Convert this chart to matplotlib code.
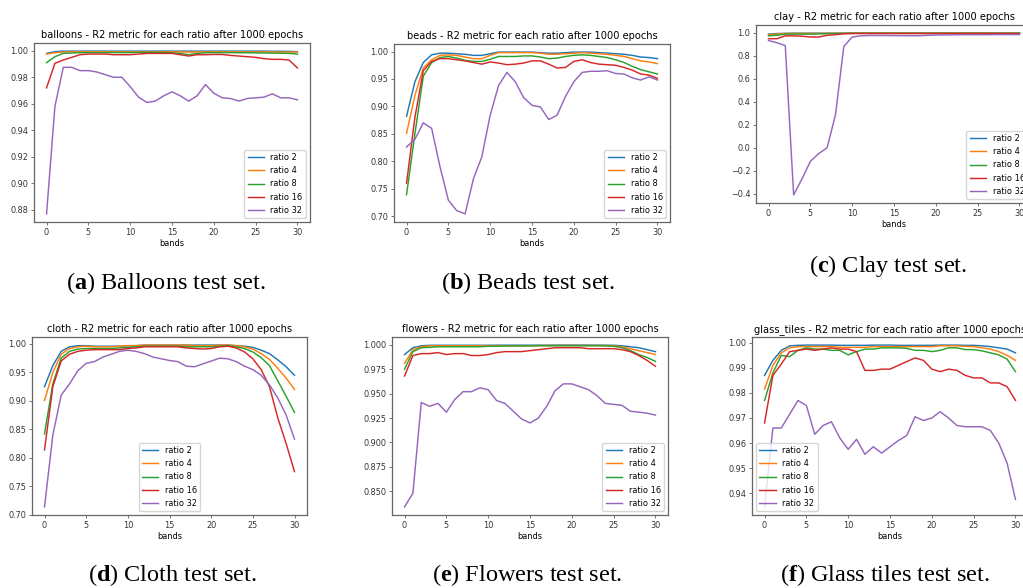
"""Six panels: R2 metric per band for each downsampling ratio."""

import matplotlib

matplotlib.use("Agg")
import matplotlib.pyplot as plt
import numpy as np

W, H = 1023, 588

plt.rcParams["mathtext.fontset"] = "custom"
plt.rcParams["mathtext.rm"] = "Liberation Serif"
plt.rcParams["mathtext.bf"] = "Liberation Serif:bold"

bands = np.arange(31)
ratio_labels = ["ratio 2", "ratio 4", "ratio 8", "ratio 16", "ratio 32"]

# --- balloons ---
balloons_r2 = [0.998, 0.9993, 0.9997, 0.9997, 0.9997, 0.9997, 0.9997, 0.9997, 0.9997, 0.9997, 0.9997,
               0.9997, 0.9997, 0.9997, 0.9997, 0.9997, 0.9997, 0.9997, 0.9997, 0.9997, 0.9997,
               0.9997, 0.9997, 0.9997, 0.9997, 0.9997, 0.9997, 0.9996, 0.9996, 0.9995, 0.9993]
balloons_r4 = [0.9975, 0.9985, 0.999, 0.9992, 0.9992, 0.9992, 0.9992, 0.9992, 0.9992, 0.9992, 0.9992,
               0.9992, 0.9992, 0.9992, 0.9992, 0.9992, 0.9991, 0.999, 0.9991, 0.9992, 0.9992,
               0.9992, 0.9992, 0.9992, 0.9991, 0.9991, 0.9991, 0.9991, 0.999, 0.999, 0.999]
balloons_r8 = [0.991, 0.9955, 0.998, 0.9983, 0.9985, 0.9986, 0.9986, 0.9986, 0.9986, 0.9986, 0.9986,
               0.9988, 0.9988, 0.9988, 0.9988, 0.9985, 0.998, 0.997, 0.998, 0.9985, 0.9986,
               0.9986, 0.9986, 0.9985, 0.9985, 0.9984, 0.9983, 0.9982, 0.9981, 0.998, 0.9975]
balloons_r16 = [0.972, 0.9905, 0.993, 0.995, 0.997, 0.9975, 0.9975, 0.9975, 0.997, 0.997, 0.997,
                0.9975, 0.998, 0.998, 0.998, 0.998, 0.997, 0.996, 0.997, 0.997, 0.9972,
                0.9972, 0.9965, 0.996, 0.9955, 0.995, 0.994, 0.9935, 0.9935, 0.993, 0.987]
balloons_r32 = [0.877, 0.958, 0.9875, 0.9875, 0.985, 0.985, 0.984, 0.982, 0.980, 0.980, 0.973,
                0.965, 0.961, 0.962, 0.966, 0.969, 0.966, 0.962, 0.966, 0.9745, 0.968,
                0.9645, 0.964, 0.962, 0.964, 0.9645, 0.965, 0.9675, 0.9645, 0.9645, 0.963]

# --- beads ---
beads_r2 = [0.882, 0.945, 0.980, 0.994, 0.997, 0.997, 0.996, 0.995, 0.993, 0.993, 0.996,
            0.999, 0.999, 0.999, 0.999, 0.999, 0.998, 0.997, 0.997, 0.998, 0.999,
            0.999, 0.999, 0.998, 0.997, 0.996, 0.995, 0.993, 0.990, 0.989, 0.987]
beads_r4 = [0.851, 0.920, 0.970, 0.985, 0.993, 0.994, 0.993, 0.990, 0.987, 0.987, 0.993,
            0.998, 0.998, 0.998, 0.998, 0.998, 0.997, 0.995, 0.995, 0.996, 0.997,
            0.998, 0.997, 0.996, 0.995, 0.993, 0.991, 0.987, 0.983, 0.981, 0.978]
beads_r8 = [0.739, 0.850, 0.955, 0.980, 0.989, 0.991, 0.988, 0.984, 0.982, 0.982, 0.986,
            0.991, 0.991, 0.991, 0.992, 0.992, 0.990, 0.987, 0.988, 0.991, 0.993,
            0.994, 0.993, 0.991, 0.989, 0.985, 0.980, 0.973, 0.967, 0.963, 0.959]
beads_r16 = [0.760, 0.880, 0.965, 0.982, 0.987, 0.987, 0.985, 0.983, 0.980, 0.977, 0.981,
             0.979, 0.976, 0.977, 0.979, 0.983, 0.983, 0.977, 0.970, 0.971, 0.982,
             0.985, 0.980, 0.977, 0.976, 0.975, 0.971, 0.966, 0.959, 0.957, 0.951]
beads_r32 = [0.826, 0.840, 0.870, 0.860, 0.790, 0.729, 0.710, 0.704, 0.768, 0.808, 0.884,
             0.938, 0.962, 0.945, 0.916, 0.902, 0.899, 0.876, 0.884, 0.918, 0.945,
             0.962, 0.964, 0.964, 0.965, 0.960, 0.959, 0.952, 0.948, 0.954, 0.948]

# --- clay ---
clay_r2 = [0.990, 0.995, 0.997, 0.998, 0.998, 0.998, 0.998, 0.998, 0.998, 0.998, 0.999,
           0.999, 0.999, 0.999, 0.999, 0.999, 0.999, 0.999, 0.999, 0.999, 0.999,
           0.999, 0.999, 0.999, 0.999, 0.999, 0.999, 0.999, 0.999, 0.999, 0.999]
clay_r4 = [0.985, 0.990, 0.995, 0.996, 0.996, 0.996, 0.996, 0.997, 0.997, 0.997, 0.998,
           0.998, 0.998, 0.998, 0.998, 0.998, 0.998, 0.998, 0.998, 0.998, 0.998,
           0.998, 0.998, 0.998, 0.998, 0.998, 0.998, 0.998, 0.998, 0.998, 0.998]
clay_r8 = [0.975, 0.980, 0.990, 0.990, 0.990, 0.990, 0.992, 0.994, 0.995, 0.996, 0.997,
           0.997, 0.997, 0.997, 0.997, 0.997, 0.997, 0.997, 0.997, 0.997, 0.997,
           0.997, 0.997, 0.997, 0.997, 0.997, 0.997, 0.997, 0.997, 0.997, 0.997]
clay_r16 = [0.950, 0.950, 0.975, 0.975, 0.972, 0.965, 0.965, 0.980, 0.985, 0.993, 0.995,
            0.995, 0.995, 0.995, 0.995, 0.995, 0.995, 0.995, 0.995, 0.995, 0.995,
            0.995, 0.995, 0.995, 0.995, 0.995, 0.995, 0.995, 0.995, 0.995, 0.995]
clay_r32 = [0.934, 0.915, 0.890, -0.410, -0.270, -0.118, -0.050, 0.000, 0.287, 0.882, 0.965,
            0.975, 0.978, 0.978, 0.978, 0.977, 0.977, 0.976, 0.976, 0.980, 0.982,
            0.983, 0.984, 0.985, 0.985, 0.985, 0.985, 0.986, 0.986, 0.986, 0.986]

# --- cloth ---
cloth_r2 = [0.925, 0.962, 0.987, 0.995, 0.997, 0.997, 0.996, 0.996, 0.996, 0.996, 0.997,
            0.997, 0.998, 0.998, 0.998, 0.998, 0.998, 0.998, 0.998, 0.998, 0.998,
            0.998, 0.998, 0.997, 0.996, 0.994, 0.989, 0.983, 0.972, 0.960, 0.945]
cloth_r4 = [0.901, 0.950, 0.982, 0.992, 0.995, 0.996, 0.995, 0.995, 0.995, 0.996, 0.997,
            0.997, 0.998, 0.998, 0.998, 0.998, 0.998, 0.998, 0.997, 0.997, 0.997,
            0.998, 0.998, 0.997, 0.995, 0.991, 0.983, 0.973, 0.957, 0.940, 0.920]
cloth_r8 = [0.842, 0.930, 0.975, 0.987, 0.991, 0.992, 0.992, 0.992, 0.992, 0.993, 0.994,
            0.995, 0.996, 0.996, 0.996, 0.996, 0.996, 0.995, 0.995, 0.995, 0.995,
            0.996, 0.997, 0.995, 0.992, 0.986, 0.976, 0.962, 0.935, 0.908, 0.880]
cloth_r16 = [0.814, 0.925, 0.970, 0.982, 0.987, 0.989, 0.990, 0.990, 0.990, 0.990, 0.992,
             0.993, 0.995, 0.995, 0.995, 0.995, 0.995, 0.993, 0.992, 0.991, 0.992,
             0.995, 0.996, 0.993, 0.986, 0.974, 0.955, 0.925, 0.870, 0.825, 0.776]
cloth_r32 = [0.714, 0.840, 0.910, 0.930, 0.953, 0.966, 0.969, 0.977, 0.982, 0.987, 0.989,
             0.987, 0.983, 0.977, 0.974, 0.971, 0.969, 0.961, 0.960, 0.965, 0.970,
             0.975, 0.974, 0.969, 0.961, 0.955, 0.945, 0.928, 0.905, 0.875, 0.833]

# --- flowers ---
flowers_r2 = [0.990, 0.997, 0.999, 0.9995, 0.9995, 0.9995, 0.9995, 0.9995, 0.9995, 0.9995, 0.9995,
              0.9996, 0.9996, 0.9996, 0.9996, 0.9996, 0.9996, 0.9996, 0.9997, 0.9997, 0.9997,
              0.9997, 0.9997, 0.9996, 0.9996, 0.9995, 0.999, 0.998, 0.997, 0.995, 0.993]
flowers_r4 = [0.981, 0.995, 0.998, 0.999, 0.999, 0.999, 0.999, 0.999, 0.999, 0.999, 0.999,
              0.999, 0.999, 0.999, 0.999, 0.999, 0.9992, 0.9993, 0.9993, 0.9993, 0.9993,
              0.9993, 0.9993, 0.9993, 0.9992, 0.999, 0.998, 0.996, 0.994, 0.992, 0.990]
flowers_r8 = [0.975, 0.993, 0.997, 0.9975, 0.998, 0.998, 0.998, 0.998, 0.998, 0.998, 0.9985,
              0.9985, 0.9987, 0.9988, 0.9988, 0.9988, 0.999, 0.999, 0.999, 0.999, 0.999,
              0.999, 0.999, 0.999, 0.9988, 0.9985, 0.997, 0.994, 0.990, 0.987, 0.983]
flowers_r16 = [0.968, 0.989, 0.991, 0.991, 0.992, 0.990, 0.991, 0.991, 0.989, 0.989, 0.990,
               0.992, 0.993, 0.993, 0.993, 0.994, 0.995, 0.996, 0.997, 0.997, 0.997,
               0.997, 0.996, 0.996, 0.996, 0.996, 0.995, 0.993, 0.989, 0.984, 0.978]
flowers_r32 = [0.834, 0.848, 0.941, 0.937, 0.940, 0.931, 0.944, 0.952, 0.952, 0.956, 0.954,
               0.943, 0.940, 0.932, 0.924, 0.920, 0.925, 0.937, 0.953, 0.960, 0.960,
               0.957, 0.954, 0.948, 0.940, 0.939, 0.938, 0.932, 0.931, 0.930, 0.928]

# --- glass tiles ---
glass_r2 = [0.987, 0.993, 0.997, 0.9988, 0.999, 0.9991, 0.9991, 0.9991, 0.9991, 0.999, 0.999,
            0.999, 0.999, 0.9991, 0.9991, 0.9991, 0.999, 0.999, 0.999, 0.999, 0.999,
            0.9991, 0.9991, 0.9991, 0.999, 0.999, 0.9988, 0.9985, 0.998, 0.9975, 0.996]
glass_r4 = [0.9815, 0.991, 0.996, 0.998, 0.9985, 0.9985, 0.9985, 0.9985, 0.9985, 0.9982, 0.9982,
            0.9982, 0.9982, 0.9985, 0.9985, 0.9985, 0.9985, 0.9985, 0.9985, 0.9985, 0.9985,
            0.9988, 0.9988, 0.9988, 0.9986, 0.9985, 0.998, 0.9975, 0.9965, 0.995, 0.993]
glass_r8 = [0.977, 0.988, 0.995, 0.9945, 0.997, 0.998, 0.9975, 0.9975, 0.997, 0.997, 0.9952,
            0.9965, 0.9975, 0.9975, 0.998, 0.998, 0.998, 0.9978, 0.997, 0.997, 0.9965,
            0.997, 0.998, 0.998, 0.9973, 0.9973, 0.9968, 0.996, 0.9952, 0.9935, 0.9885]
glass_r16 = [0.968, 0.987, 0.9915, 0.9965, 0.997, 0.9975, 0.997, 0.9975, 0.998, 0.9975, 0.9975,
             0.9965, 0.989, 0.989, 0.9895, 0.9895, 0.991, 0.9925, 0.994, 0.993, 0.9895,
             0.9885, 0.9895, 0.989, 0.987, 0.986, 0.986, 0.984, 0.984, 0.9825, 0.977]
glass_r32 = [0.9345, 0.966, 0.966, 0.9715, 0.977, 0.975, 0.9635, 0.967, 0.9685, 0.962, 0.9575,
             0.9615, 0.9555, 0.9585, 0.956, 0.9585, 0.961, 0.963, 0.9705, 0.969, 0.970,
             0.9725, 0.970, 0.967, 0.9665, 0.9665, 0.9665, 0.965, 0.960, 0.952, 0.9375]

S = 0.59  # scale relative to matplotlib defaults
colors = ["#1f77b4", "#ff7f0e", "#2ca02c", "#d62728", "#9467bd"]


def add_panel(fig, box, name, series, legend_loc):
    left, top, right, bottom = box
    ax = fig.add_axes([left / W, 1 - bottom / H, (right - left) / W, (bottom - top) / H])
    for values, label, color in zip(series, ratio_labels, colors):
        ax.plot(bands, values, color=color, lw=1.05, label=label)
    ax.set_title(f"{name} - R2 metric for each ratio after 1000 epochs",
                 fontsize=12 * S, pad=6 * S)
    ax.set_xlabel("bands", fontsize=10 * S, labelpad=3 * S)
    ax.set_xticks([0, 5, 10, 15, 20, 25, 30])
    ax.tick_params(labelsize=10 * S, length=3.5 * S, width=0.8 * S, pad=3.5 * S,
                   colors="#333333")
    for spine in ax.spines.values():
        spine.set_linewidth(0.9)
        spine.set_color("#666666")
    ax.legend(loc=legend_loc, fontsize=10 * S, handlelength=2.0, borderpad=0.4,
              labelspacing=0.5, framealpha=0.8, edgecolor="#cccccc")
    return ax


def caption(fig, x, y, letter, text):
    fig.text(x / W, 1 - y / H, rf"($\mathbf{{{letter}}}$) {text}", ha="center", va="center",
             family="Liberation Serif", fontsize=17.5)


fig = plt.figure(figsize=(W / 100, H / 100), dpi=100)

add_panel(fig, (34, 43, 310, 222), "balloons",
          [balloons_r2, balloons_r4, balloons_r8, balloons_r16, balloons_r32], "lower right")
add_panel(fig, (394, 44, 670, 222), "beads",
          [beads_r2, beads_r4, beads_r8, beads_r16, beads_r32], "lower right")
add_panel(fig, (756, 25, 1032, 203), "clay",
          [clay_r2, clay_r4, clay_r8, clay_r16, clay_r32], "lower right")
add_panel(fig, (32, 337, 307, 515), "cloth",
          [cloth_r2, cloth_r4, cloth_r8, cloth_r16, cloth_r32], "lower center")
add_panel(fig, (392, 337, 668, 515), "flowers",
          [flowers_r2, flowers_r4, flowers_r8, flowers_r16, flowers_r32], "lower right")
add_panel(fig, (752, 337, 1028, 515), "glass_tiles",
          [glass_r2, glass_r4, glass_r8, glass_r16, glass_r32], "lower left")

caption(fig, 166, 283, "a", "Balloons test set.")
caption(fig, 528, 283, "b", "Beads test set.")
caption(fig, 888, 266, "c", "Clay test set.")
caption(fig, 172, 575, "d", "Cloth test set.")
caption(fig, 527, 575, "e", "Flowers test set.")
caption(fig, 885, 575, "f", "Glass tiles test set.")

fig.savefig("out.png", dpi=100)
